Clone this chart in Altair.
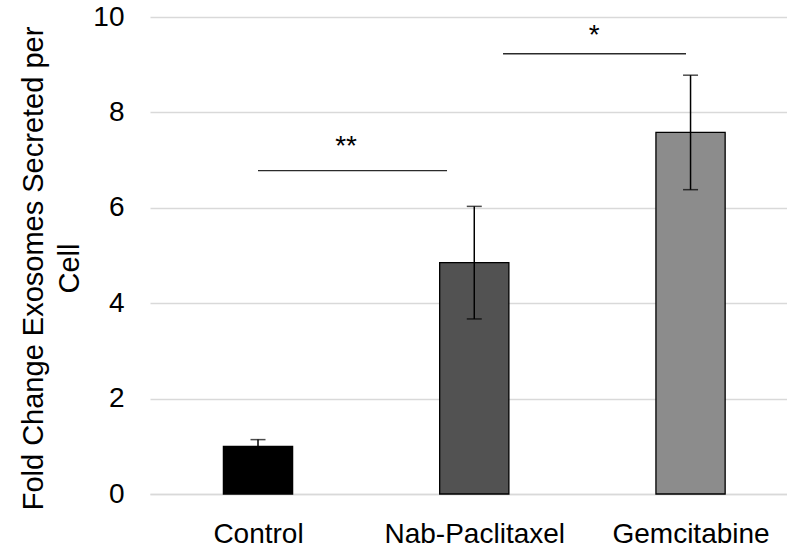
import altair as alt
import pandas as pd

# Treatment groups, mean fold change and error (± SD)
categories = ["Control", "Nab-Paclitaxel", "Gemcitabine"]
means = [1.00, 4.85, 7.58]
errors = [0.14, 1.18, 1.20]
bar_colors = ["#000000", "#525252", "#8c8c8c"]

# Significance brackets: label, height, start/end along the category axis
sig_labels = ["**", "*"]
sig_height = [6.78, 9.23]
sig_start = [0.0, 1.133]
sig_end = [0.874, 1.979]
sig_label_x = [0.407, 1.554]
sig_label_y = [7.11, 9.43]

FONT = "Liberation Sans"
HALF_BAR = 0.16

bars = pd.DataFrame({
    "idx": list(range(len(categories))),
    "group": categories,
    "mean": means,
    "err": errors,
    "color": bar_colors,
})
sig = pd.DataFrame({
    "label": sig_labels,
    "y": sig_height,
    "x0": sig_start,
    "x1": sig_end,
    "lx": sig_label_x,
    "ly": sig_label_y,
})

label_expr = "[" + ",".join(f"'{c}'" for c in categories) + "][datum.value]"

x_scale = alt.Scale(domain=[-0.4994, 2.446], nice=False, zero=False)
y_scale = alt.Scale(domain=[0, 10], nice=False)

x_axis = alt.Axis(
    values=[0, 1, 2], labelExpr=label_expr, title=None, grid=False, ticks=False,
    domain=True, domainColor="#d9d9d9", domainWidth=1.5,
    labelFont=FONT, labelFontSize=28, labelColor="#000000", labelPadding=26,
    labelFlush=False, labelOverlap=False, labelLimit=400,
)
y_axis = alt.Axis(
    values=[0, 2, 4, 6, 8, 10], grid=True, gridColor="#d9d9d9", gridWidth=1.3,
    domain=False, ticks=False,
    labelFont=FONT, labelFontSize=28, labelColor="#000000", labelPadding=26,
    title=["Fold Change Exosomes Secreted per", "Cell"],
    titleFont=FONT, titleFontSize=29, titleFontWeight="normal", titleColor="#000000",
    titleAngle=270, titleAlign="center", titleBaseline="alphabetic",
    titleX=-108, titleY=251, titleLineHeight=36, titleLimit=800,
)

base = alt.Chart(bars).transform_calculate(
    left=f"datum.idx - {HALF_BAR}",
    right=f"datum.idx + {HALF_BAR}",
    lo="datum.mean - datum.err",
    hi="datum.mean + datum.err",
)

bar_layer = base.mark_bar(stroke="#000000", strokeWidth=1.3).encode(
    x=alt.X("left:Q", scale=x_scale, axis=x_axis),
    x2="right:Q",
    y=alt.Y("mean:Q", scale=y_scale, axis=y_axis),
    y2=alt.datum(0),
    color=alt.Color("color:N", scale=None),
)

err_rule = base.mark_rule(color="#000000", strokeWidth=1.5).encode(
    x="idx:Q", y="lo:Q", y2="hi:Q",
)
cap_hi = base.mark_tick(orient="horizontal", size=15, thickness=1.5, color="#000000").encode(
    x="idx:Q", y="hi:Q",
)
cap_lo = base.mark_tick(orient="horizontal", size=15, thickness=1.5, color="#000000").encode(
    x="idx:Q", y="lo:Q",
)

sig_base = alt.Chart(sig)
sig_lines = sig_base.mark_rule(color="#2b2b2b", strokeWidth=1.3).encode(
    x="x0:Q", x2="x1:Q", y="y:Q",
)
sig_text = sig_base.mark_text(
    font=FONT, fontSize=28, color="#000000", align="center", baseline="alphabetic",
).encode(x="lx:Q", y="ly:Q", text="label:N")

chart = alt.layer(
    bar_layer, err_rule, cap_hi, cap_lo, sig_lines, sig_text
).properties(
    width=637, height=477,
    autosize=alt.AutoSizeParams(type="none"),
    padding={"left": 150, "top": 17, "right": 0, "bottom": 55},
    background="#ffffff",
).configure_view(stroke=None)

chart.save("out.html", embed_options={"renderer": "svg", "actions": False})
